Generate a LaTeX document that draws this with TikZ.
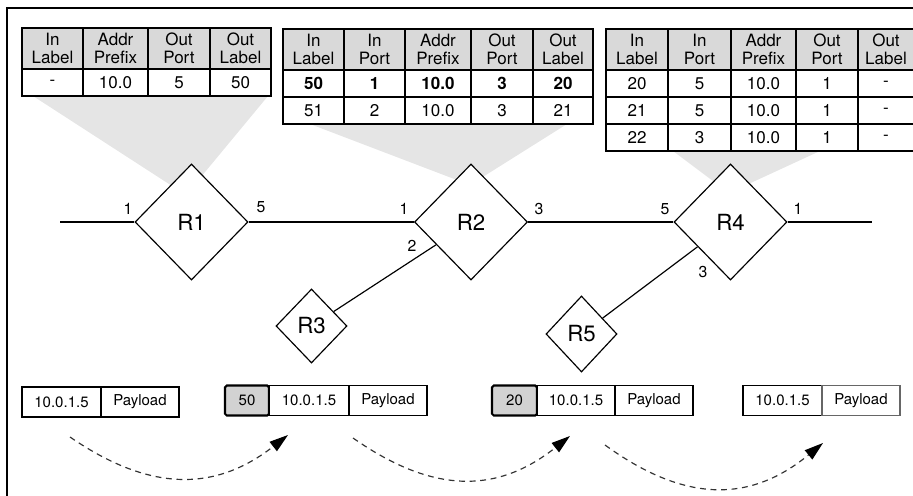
\documentclass[tikz,border=0pt]{standalone}
\usepackage{fontspec}
\setmainfont{TeX Gyre Heros}
\usetikzlibrary{shapes.geometric, arrows.meta, positioning, calc}

\tikzset{
  tabfont/.style={font=\fontsize{14.5}{15.5}\selectfont},
  headcell/.style={draw, line width=1pt, fill=gray!30, align=center, outer sep=0pt, inner sep=0pt, minimum height=41*0.03cm, tabfont},
  cell/.style={draw, line width=1pt, fill=white, outer sep=0pt, inner sep=0pt, minimum height=27*0.03cm, tabfont},
  funnel/.style={fill=gray!20},
  router/.style={draw, diamond, line width=1pt, fill=white, inner sep=0pt, font=\fontsize{19}{22}\selectfont},
  port/.style={inner sep=0pt, font=\fontsize{13.5}{15}\selectfont},
  link/.style={line width=1pt},
  pkt/.style={draw, line width=1pt, fill=white, outer sep=0pt, inner sep=0pt, minimum height=30*0.03cm, font=\fontsize{12.8}{14}\selectfont},
  pktlabel/.style={pkt, fill=gray!35, line width=1.8pt, rounded corners=1.5pt},
  hop/.style={dash pattern=on 5pt off 4pt, line width=1pt, black!80, -{Triangle[length=16pt,width=10pt,color=black]}},
}

\begin{document}
\begin{tikzpicture}[x=0.03cm, y=-0.03cm]
\useasboundingbox (0,0) rectangle (913,495);

% outer frame, cut off at the right and bottom
\draw[line width=1.5pt] (7,8) rectangle (960,540);

% --- gray funnels from each table down to its router ---
\fill[funnel] (33,96) -- (268,96) -- (186,195) -- cycle;
\fill[funnel] (310,124) -- (567,124) -- (470,185) -- cycle;
\fill[funnel] (673,151) -- (820,151) -- (729,193) -- cycle;

% --- table of R1 ---
\foreach \x/\w/\hd/\va [count=\i] in {22/61/{In\\Label}/-, 83/65/{Addr\\Prefix}/10.0, 148/62/{Out\\Port}/5, 210/61/{Out\\Label}/50}{
  \node[headcell, minimum width=\w*0.03cm, anchor=north west] (ta-h\i) at (\x,28) {\hd};
  \node[cell, minimum width=\w*0.03cm, anchor=north west] (ta-a\i) at (\x,69) {\va};
}

% --- table of R2 ---
\foreach \x/\w/\hd/\va/\vb [count=\i] in {283/61/{In\\Label}/50/51, 344/61/{In\\Port}/1/2, 405/66/{Addr\\Prefix}/10.0/10.0, 471/62/{Out\\Port}/3/3, 533/60/{Out\\Label}/20/21}{
  \node[headcell, minimum width=\w*0.03cm, anchor=north west] (tb-h\i) at (\x,29) {\hd};
  \node[cell, minimum width=\w*0.03cm, anchor=north west] (tb-a\i) at (\x,70) {\textbf{\va}};
  \node[cell, minimum width=\w*0.03cm, anchor=north west] (tb-b\i) at (\x,97) {\vb};
}

% --- table of R4 ---
\foreach \x/\w/\hd/\va/\vb/\vc [count=\i] in {606/62/{In\\Label}/20/21/22, 668/63/{In\\Port}/5/5/3, 731/65/{Addr\\Prefix}/10.0/10.0/10.0, 796/62/{Out\\Port}/1/1/1, 858/56/{Out\\Label}/-/-/-}{
  \node[headcell, minimum width=\w*0.03cm, anchor=north west] (tc-h\i) at (\x,29) {\hd};
  \node[cell, minimum width=\w*0.03cm, anchor=north west] (tc-a\i) at (\x,70) {\va};
  \node[cell, minimum width=\w*0.03cm, anchor=north west] (tc-b\i) at (\x,97) {\vb};
  \node[cell, minimum width=\w*0.03cm, anchor=north west] (tc-c\i) at (\x,124) {\vc};
}

% --- routers ---
\node[router, minimum width=113*0.03cm, minimum height=116*0.03cm] (R1) at (191.5,222) {R1};
\node[router, minimum width=113*0.03cm, minimum height=116*0.03cm] (R2) at (471,222) {R2};
\node[router, minimum width=113*0.03cm, minimum height=116*0.03cm] (R4) at (730.5,222) {R4};
\node[router, minimum width=71*0.03cm, minimum height=74*0.03cm] (R3) at (311.5,326) {R3};
\node[router, minimum width=71*0.03cm, minimum height=76*0.03cm] (R5) at (581.5,334) {R5};

\coordinate (wend) at (60,222);
\coordinate (eend) at (872,222);

\draw[link] (wend) -- (R1.west);
\draw[link] (R1.east) -- (R2.west);
\draw[link] (R2.east) -- (R4.west);
\draw[link] (R4.east) -- (eend);
\draw[link] (R3) -- (R2);
\draw[link] (R5) -- (R4);

% port numbers
\node[port] (r1-p1) at (128,209) {1};
\node[port] (r1-p5) at (261,207) {5};
\node[port] (r2-p1) at (404,209) {1};
\node[port] (r2-p2) at (412,246) {2};
\node[port] (r2-p3) at (539,209) {3};
\node[port] (r4-p5) at (665,209) {5};
\node[port] (r4-p1) at (798,209) {1};
\node[port] (r4-p3) at (703,272) {3};

% --- packets along the path ---
\node[pkt, minimum width=79*0.03cm] (pa-ip) at (61.5,402) {10.0.1.5};
\node[pkt, minimum width=78*0.03cm, right=0pt of pa-ip] (pa-pl) {Payload};

\node[pktlabel, minimum width=44*0.03cm] (pb-lb) at (247,400.5) {50};
\node[pkt, minimum width=80*0.03cm, right=0pt of pb-lb] (pb-ip) {10.0.1.5};
\node[pkt, minimum width=78*0.03cm, right=0pt of pb-ip] (pb-pl) {Payload};

\node[pktlabel, minimum width=45*0.03cm] (pc-lb) at (514.5,400.5) {20};
\node[pkt, minimum width=78*0.03cm, right=0pt of pc-lb] (pc-ip) {10.0.1.5};
\node[pkt, minimum width=78*0.03cm, right=0pt of pc-ip] (pc-pl) {Payload};

\node[pkt, minimum width=79*0.03cm] (pd-ip) at (782.5,400.5) {10.0.1.5};
\node[pkt, draw=black!60, minimum width=78*0.03cm, right=0pt of pd-ip] (pd-pl) {Payload};

% dashed hops between packets
\coordinate (ha-s) at (70,437);
\coordinate (ha-e) at (288,435);
\coordinate (hb-s) at (353,438);
\coordinate (hb-e) at (570,436);
\coordinate (hc-s) at (605,445);
\coordinate (hc-e) at (823,443);
\draw[hop] (ha-s) .. controls (150,492) and (215,492) .. (ha-e);
\draw[hop] (hb-s) .. controls (433,494) and (497,494) .. (hb-e);
\draw[hop] (hc-s) .. controls (685,503) and (750,503) .. (hc-e);

\end{tikzpicture}
\end{document}
